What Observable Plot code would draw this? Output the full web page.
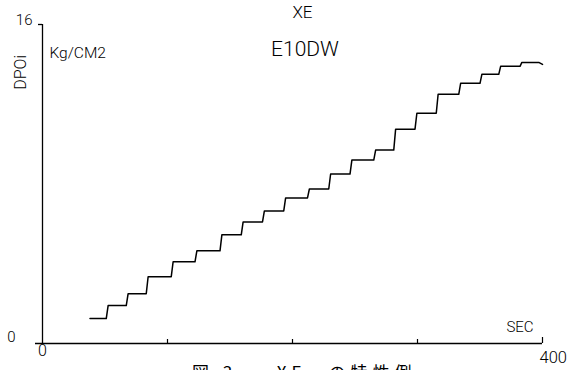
<!DOCTYPE html>
<html>
<head>
<meta charset="utf-8">
<script src="https://cdn.jsdelivr.net/npm/d3@7"></script>
<script src="https://cdn.jsdelivr.net/npm/@observablehq/plot@0.6"></script>
<style>
  html, body { margin: 0; padding: 0; background: #fff; overflow: hidden; }
  #wrap { position: relative; width: 569px; height: 370px; }
  #caption { position: absolute; left: 192px; top: 363px; line-height: 1; font-family: "Noto Sans CJK JP", sans-serif; font-size: 17px; letter-spacing: 5px; color: #000; white-space: nowrap; }
</style>
</head>
<body>
<div id="wrap">
  <div id="chart"></div>
  <div id="caption">図 3 ． XE　の特性例</div>
</div>
<script>
// Data
const titleLines = ["XE", "E10DW"];
const yLabel = "DPOi";
const yUnit = "Kg/CM2";
const xUnit = "SEC";
const xTicks = [100, 200, 300];
const yTickLabels = [0, 16];
const xTickLabels = [0, 400];
// staircase: start time, times where each riser occurs, end time
const startTime = 38;
const riseTimes = [51, 67, 83, 103, 122, 142, 159, 176, 193, 212, 229, 246, 265, 281, 298, 315, 333, 350, 365, 382];
const endTime = 400;
// level of each plateau (kg/cm2)
const levels = [1.25, 1.9, 2.5, 3.35, 4.1, 4.65, 5.45, 6.1, 6.65, 7.3, 7.75, 8.5, 9.2, 9.7, 10.75, 11.55, 12.5, 13.05, 13.5, 13.9, 14.1];
const endLevel = 14.0;

// build line points from the arrays (risers slightly slanted as in the plotter trace)
const pts = [{t: startTime, v: levels[0]}];
riseTimes.forEach((t, i) => {
  pts.push({t: t, v: levels[i]});
  pts.push({t: t + 1.5, v: levels[i + 1]});
});
pts.push({t: endTime - 3, v: levels[levels.length - 1]});
pts.push({t: endTime, v: endLevel});

const font = "Roboto, 'Liberation Sans', sans-serif";

const chart = Plot.plot({
  width: 569,
  height: 370,
  marginLeft: 42,
  marginRight: 27,
  marginTop: 24,
  marginBottom: 27,
  x: {domain: [0, 400], axis: null},
  y: {domain: [0, 16], axis: null},
  style: {fontFamily: font, fontWeight: 300, background: "#fff", color: "#000", overflow: "visible"},
  marks: [
    // axes
    Plot.ruleX([0], {y1: 0, y2: 16, stroke: "#000", strokeWidth: 1.3}),
    Plot.ruleY([16], {x1: -3.2, x2: 0, stroke: "#000", strokeWidth: 1.3}),
    Plot.ruleY([0], {x1: -5.6, x2: 400, stroke: "#000", strokeWidth: 1.3}),
    Plot.ruleX(xTicks, {y1: 0, y2: 0.2, stroke: "#000", strokeWidth: 1.2}),
    Plot.ruleX([400], {y1: 0, y2: 0.3, stroke: "#000", strokeWidth: 1.2}),
    // staircase trace
    Plot.line(pts, {x: "t", y: "v", stroke: "#000", strokeWidth: 1.5, clip: false}),
    // tick labels
    Plot.text([yTickLabels[1]], {x: -8, y: 16.2, text: d => String(d), textAnchor: "end", fontSize: 15, fontWeight: 300}),
    Plot.text([yTickLabels[0]], {x: -21.6, y: 0.3, text: d => String(d), textAnchor: "end", fontSize: 15, fontWeight: 300}),
    Plot.text([xTickLabels[0]], {x: 0, y: -0.35, text: d => String(d), textAnchor: "middle", fontSize: 16, fontWeight: 300}),
    Plot.text([xTickLabels[1]], {x: 397.6, y: -0.7, text: d => String(d), textAnchor: "start", fontSize: 16.5, fontWeight: 300}),
    // titles and unit labels
    Plot.text([titleLines[0]], {x: 208, y: 16.6, text: d => d, textAnchor: "middle", fontSize: 17, fontWeight: 300}),
    Plot.text([titleLines[1]], {x: 210, y: 14.75, text: d => d, textAnchor: "middle", fontSize: 21, fontWeight: 300}),
    Plot.text([yUnit], {x: 5.6, y: 14.55, text: d => d, textAnchor: "start", fontSize: 15.5, fontWeight: 300}),
    Plot.text([yLabel], {x: -17.6, y: 13.6, text: d => d, textAnchor: "middle", rotate: -90, fontSize: 16, fontWeight: 300}),
    Plot.text([xUnit], {x: 382, y: 0.8, text: d => d, textAnchor: "middle", fontSize: 15, fontWeight: 300})
  ]
});
document.getElementById("chart").appendChild(chart);
</script>
</body>
</html>
